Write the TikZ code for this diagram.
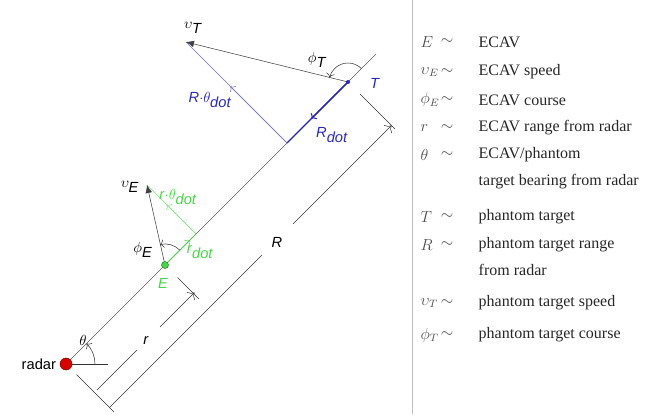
\documentclass[tikz,border=0pt]{standalone}
\usepackage{fontspec}
\setmainfont{Liberation Sans}
\newfontfamily\legfont{Liberation Serif}
\usetikzlibrary{arrows.meta,positioning,calc}
\definecolor{tblue}{RGB}{40,40,190}
\definecolor{lblue}{RGB}{110,110,205}
\definecolor{egreen}{RGB}{70,215,70}

\begin{document}
\begin{tikzpicture}[x=0.75pt,y=0.75pt,font=\fontsize{11}{13}\selectfont]
\useasboundingbox (0,0) rectangle (645,414);
\coordinate (radar) at (66,50);
\coordinate (E) at (165,149);
\coordinate (T) at (348,332);
\coordinate (top) at (376,360);
\coordinate (vT) at (186,372);
\coordinate (vE) at (147,229);
\coordinate (Tf) at (287,271);
\coordinate (Ef) at (196,180);

% line of sight and bearing
\draw[black!65] (radar) -- (top);
\draw[black!80] (radar) -- ++(42,0);
\draw[black!80,-{To[length=3pt]}] ([shift={(0:29)}]radar) arc[start angle=0,end angle=45,radius=29];
\node (lth) at (83,74) {$\theta$};

% phantom target
\draw[tblue,thick] (T) -- (Tf);
\draw[tblue,thick,-{To[length=3pt]}] (T) -- ($(T)!0.6!(Tf)$);
\draw[lblue] (Tf) -- (vT);
\draw[lblue,-{To[length=3pt]}] (Tf) -- ($(Tf)!0.56!(vT)$);
\draw[black!75,-{Latex[length=6pt,width=5pt]}] (T) -- (vT);
\draw[black!80,-{To[length=3pt]}] ([shift={(45:19)}]T) arc[start angle=45,end angle=166,radius=19];
\fill[tblue] (T) circle[radius=2];
\node (lvT) at (193,386) {$\upsilon_{\textit{T}}$};
\node (lphT) at (317,354) {$\phi_{\textit{T}}$};
\node[tblue] (lT) at (375,331) {\textit{T}};
\node[tblue] (lRth) at (210,314) {\textit{R}$\cdot\theta_{\textit{dot}}$};
\node[tblue] (lRd) at (332,279) {\textit{R}$_{\textit{dot}}$};

% ECAV
\draw[egreen] (E) -- (Ef);
\draw[egreen,-{To[length=3pt]}] (E) -- ($(E)!0.8!(Ef)$);
\draw[egreen!70] (Ef) -- (vE);
\draw[egreen!70,-{To[length=3pt]}] (Ef) -- ($(Ef)!0.6!(vE)$);
\draw[black!75,-{Latex[length=6pt,width=5pt]}] (E) -- (vE);
\draw[black!80,-{To[length=3pt]}] ([shift={(45:21)}]E) arc[start angle=45,end angle=104,radius=21];
\filldraw[fill=egreen,draw=egreen!60!black] (E) circle[radius=3.5];
\node (lvE) at (130,227) {$\upsilon_{\textit{E}}$};
\node (lphE) at (143,164) {$\phi_{\textit{E}}$};
\node[egreen] (lE) at (163,131) {\textit{E}};
\node[egreen] (lrth) at (178,217) {\textit{r}$\cdot\theta_{\textit{dot}}$};
\node[egreen] (lrd) at (200,162) {\textit{r}$_{\textit{dot}}$};

\filldraw[fill=red!85!black,draw=red!50!black] (radar) circle[radius=6];
\node[left=4pt of radar] (lradar) {radar};

% dimensions
\draw[black!80] (76.5,39.5) -- (114,2);
\draw[black!80] (177.5,136.5) -- (199,115);
\draw[black!80] (360,320) -- (395,285);
\draw[black!80] (97,24) -- (137,64);
\draw[black!80,-{To[length=4pt]}] (160,87) -- (194.5,121.5);
\node (lr) at (146,73) {\textit{r}};
\draw[black!80] (109.5,6.5) -- (262,159);
\draw[black!80,-{To[length=4pt]}] (293,190) -- (391.5,288.5);
\node (lR) at (277,172) {\textit{R}};

% legend
\draw[black!25] (412,0) -- (412,414);
\begin{scope}[font=\legfont\fontsize{12}{14}\selectfont]
\foreach \y/\s/\t [count=\i] in {372/$E$/ECAV, 342/$\upsilon_E$/ECAV speed, 314/$\phi_E$/ECAV course,
  286/$r$/ECAV range from radar, 259/$\theta$/{ECAV/phantom}, 197/$T$/phantom target,
  169/$R$/phantom target range, 111/$\upsilon_T$/phantom target speed, 79/$\phi_T$/phantom target course}
{
  \node[anchor=west,black!70] (sym\i) at (416,\y) {\s};
  \node[black!70] (sim\i) at (447,\y) {$\sim$};
  \node[anchor=west,black!85] (txt\i) at (474,\y) {\t};
}
\node[anchor=west,black!85] (txt10) at (474,232) {target bearing from radar};
\node[anchor=west,black!85] (txt11) at (474,144) {from radar};
\end{scope}
\end{tikzpicture}
\end{document}
